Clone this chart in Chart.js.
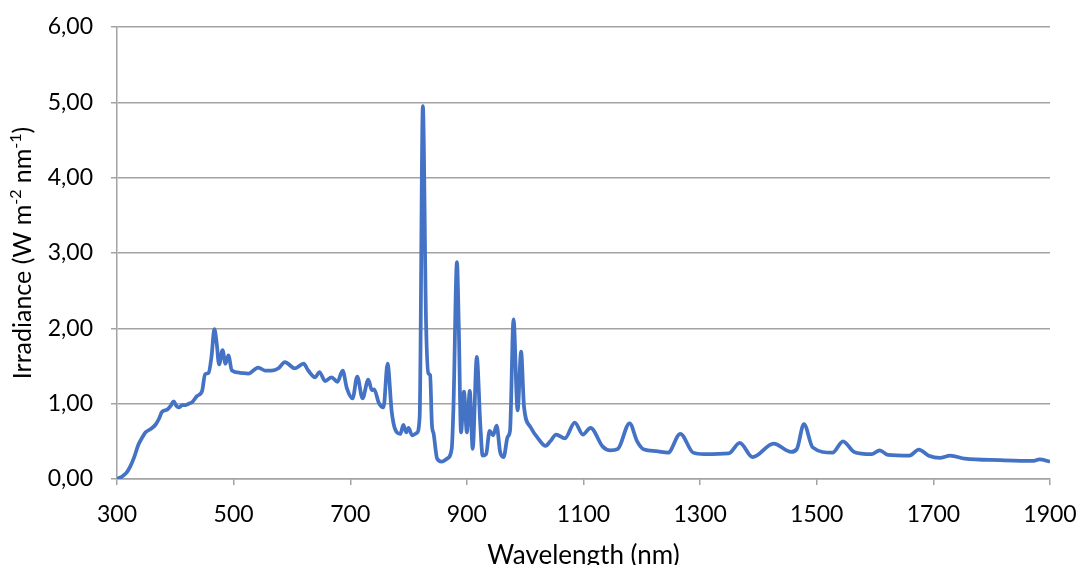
<!DOCTYPE html>
<html>
<head>
<meta charset="utf-8">
<title>Irradiance spectrum</title>
<script src="https://cdn.jsdelivr.net/npm/chart.js@4/dist/chart.umd.min.js"></script>
<style>
  html, body { margin: 0; padding: 0; background: #fff; }
  #wrap { width: 1079px; height: 565px; position: relative; }
</style>
</head>
<body>
<div id="wrap"><canvas id="spectrum"></canvas></div>
<script>
// Spectral irradiance, wavelength in nm vs W m-2 nm-1
var wavelengthNm = [
  300, 310, 317, 323, 329, 337, 344, 349, 357, 366, 372, 377, 386, 392, 397, 402,
  406, 412, 417, 423, 429, 437, 446, 451, 457, 462, 467, 471, 475, 481, 486, 491,
  497, 511, 525, 542, 554, 565, 577, 588, 605, 620, 628, 640, 647, 657, 668, 678,
  687, 694, 704, 712, 721, 731, 737, 741, 749, 757, 764, 771, 777, 786, 791, 796,
  800, 806, 814, 819, 824.5, 830, 834, 837, 840, 843, 849, 857, 866, 874, 877, 883,
  886, 890, 895, 900, 905, 910, 917, 923, 927, 933, 939, 945, 951, 957, 963, 970,
  974, 980, 987, 993, 998, 1009, 1023, 1035, 1043, 1053, 1068, 1085, 1099, 1112, 1133, 1146,
  1159, 1179, 1192, 1204, 1224, 1245, 1266, 1288, 1307, 1349, 1368, 1390, 1426, 1456, 1466, 1478,
  1493, 1527, 1545, 1564, 1594, 1608, 1622, 1659, 1675, 1692, 1711, 1729, 1754, 1815, 1870, 1882,
  1900
];
var irradiance = [
  0.00, 0.04, 0.09, 0.17, 0.28, 0.46, 0.56, 0.62, 0.66, 0.72, 0.80, 0.89, 0.92, 0.97, 1.03, 0.97,
  0.95, 0.98, 0.98, 1.00, 1.02, 1.10, 1.17, 1.39, 1.41, 1.62, 1.99, 1.80, 1.52, 1.71, 1.53, 1.64,
  1.44, 1.41, 1.40, 1.48, 1.44, 1.44, 1.47, 1.55, 1.47, 1.53, 1.44, 1.35, 1.42, 1.30, 1.35, 1.29,
  1.44, 1.21, 1.07, 1.36, 1.07, 1.32, 1.18, 1.19, 1.01, 0.95, 1.53, 0.90, 0.66, 0.60, 0.72, 0.62,
  0.68, 0.58, 0.61, 0.82, 4.95, 2.07, 1.40, 1.38, 0.73, 0.60, 0.27, 0.23, 0.27, 0.40, 0.96, 2.88,
  2.07, 0.62, 1.16, 0.62, 1.17, 0.40, 1.62, 0.73, 0.31, 0.33, 0.64, 0.58, 0.71, 0.36, 0.29, 0.56,
  0.64, 2.12, 0.91, 1.69, 0.96, 0.69, 0.53, 0.44, 0.50, 0.59, 0.54, 0.75, 0.59, 0.68, 0.43, 0.38,
  0.40, 0.74, 0.50, 0.39, 0.37, 0.35, 0.60, 0.35, 0.33, 0.34, 0.48, 0.29, 0.47, 0.36, 0.40, 0.73,
  0.42, 0.35, 0.50, 0.36, 0.33, 0.38, 0.32, 0.31, 0.39, 0.31, 0.28, 0.31, 0.27, 0.25, 0.24, 0.26,
  0.23
];
var xTicks = [300, 500, 700, 900, 1100, 1300, 1500, 1700, 1900];
var yTicks = [0, 1, 2, 3, 4, 5, 6];

var FONT = 'Lato, "Open Sans", sans-serif';
var GRID = '#a3a3a3';
var TEXT = '#000';

var points = wavelengthNm.map(function (w, i) { return { x: w, y: irradiance[i] }; });

// Axis titles drawn by hand so the unit can carry real superscripts
var axisTitles = {
  id: 'axisTitles',
  afterDraw: function (chart) {
    var ctx = chart.ctx;
    var area = chart.chartArea;
    ctx.save();
    ctx.fillStyle = TEXT;
    ctx.textBaseline = 'alphabetic';

    // x title
    ctx.font = '26px ' + FONT;
    ctx.textAlign = 'center';
    ctx.fillText('Wavelength (nm)', (area.left + area.right) / 2, 564);

    // y title, rotated, with superscripted exponents
    var parts = [
      { t: 'Irradiance (W m', sup: false },
      { t: '-2', sup: true },
      { t: ' nm', sup: false },
      { t: '-1', sup: true },
      { t: ')', sup: false }
    ];
    var big = '25px ' + FONT, small = '16px ' + FONT;
    var total = 0;
    parts.forEach(function (p) {
      ctx.font = p.sup ? small : big;
      p.w = ctx.measureText(p.t).width;
      total += p.w;
    });
    ctx.translate(31, (area.top + area.bottom) / 2);
    ctx.rotate(-Math.PI / 2);
    ctx.textAlign = 'left';
    var x = -total / 2;
    parts.forEach(function (p) {
      ctx.font = p.sup ? small : big;
      ctx.fillText(p.t, x, p.sup ? -10 : 0);
      x += p.w;
    });
    ctx.restore();
  }
};

new Chart(document.getElementById('spectrum').getContext('2d'), {
  type: 'scatter',
  data: {
    datasets: [{
      data: points,
      showLine: true,
      borderColor: '#4472C4',
      borderWidth: 3.75,
      pointRadius: 0,
      pointHoverRadius: 0,
      cubicInterpolationMode: 'monotone',
      fill: false
    }]
  },
  options: {
    responsive: true,
    maintainAspectRatio: false,
    animation: false,
    layout: { autoPadding: false, padding: { top: 27, right: 29, left: 0, bottom: 0 } },
    plugins: { legend: { display: false }, tooltip: { enabled: false } },
    scales: {
      x: {
        type: 'linear',
        min: 300,
        max: 1900,
        afterFit: function (s) {
          s.height = 86;
          s.paddingLeft = 0; s.paddingRight = 0;
        },
        afterBuildTicks: function (s) { s.ticks = xTicks.map(function (v) { return { value: v }; }); },
        grid: { drawOnChartArea: false, drawTicks: true, tickLength: 6, color: GRID, lineWidth: 1.5 },
        border: { display: true, color: GRID, width: 1.5 },
        ticks: {
          color: TEXT,
          padding: 16,
          maxRotation: 0,
          font: { family: FONT, size: 23 },
          callback: function (v) { return String(v); }
        }
      },
      y: {
        min: 0,
        max: 6,
        afterFit: function (s) {
          s.width = 117;
          s.paddingTop = 0; s.paddingBottom = 0;
        },
        afterBuildTicks: function (s) { s.ticks = yTicks.map(function (v) { return { value: v }; }); },
        grid: { drawOnChartArea: true, drawTicks: true, tickLength: 6, color: GRID, lineWidth: 1.5 },
        border: { display: true, color: GRID, width: 1.5 },
        ticks: {
          color: TEXT,
          padding: 18,
          font: { family: FONT, size: 23 },
          callback: function (v) { return v.toFixed(2).replace('.', ','); }
        }
      }
    }
  },
  plugins: [axisTitles]
});
</script>
</body>
</html>
